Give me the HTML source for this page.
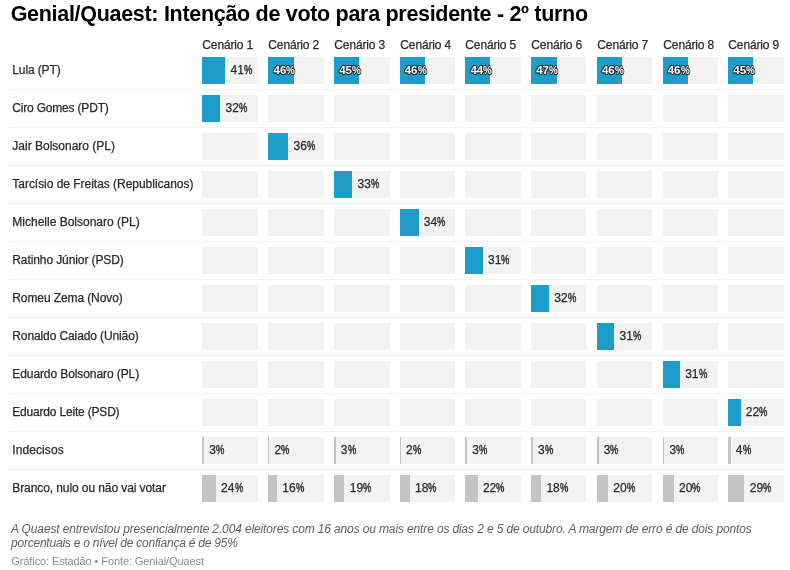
<!DOCTYPE html>
<html lang="pt-BR">
<head>
<meta charset="utf-8">
<title>Genial/Quaest</title>
<style>
html,body{margin:0;padding:0;background:#fff;}
body{width:790px;height:570px;position:relative;overflow:hidden;font-family:"Liberation Sans",sans-serif;color:#333;}
h1{position:absolute;margin:0;left:10.7px;top:1.0px;font-size:21.5px;letter-spacing:-0.30px;line-height:26px;font-weight:700;color:#000;white-space:nowrap;}
.hd{position:absolute;top:37px;-webkit-text-stroke:0.25px #2a2a2a;font-size:12px;line-height:16px;color:#2a2a2a;white-space:nowrap;letter-spacing:-0.13px;}
.lab{position:absolute;left:12.3px;-webkit-text-stroke:0.25px #2a2a2a;font-size:12px;line-height:16px;color:#2a2a2a;white-space:nowrap;}
.cell{position:absolute;background:#f2f2f2;width:56px;height:27px;}
.bar{position:absolute;left:0;top:0;height:100%;}
.b{background:#1d9dc9;}
.g{background:#c4c4c4;}
.v{position:absolute;top:5.3px;-webkit-text-stroke:0.25px #2a2a2a;font-size:12px;line-height:16px;color:#2a2a2a;white-space:nowrap;letter-spacing:0.07px;}
.v i{font-style:normal;display:inline-block;transform:scaleX(0.78);transform-origin:0 50%;letter-spacing:0;-webkit-text-stroke:0.45px #2a2a2a;}
.in i{-webkit-text-stroke:0;}
.in{color:#fff;left:5.6px;-webkit-text-stroke:0;font-weight:700;font-size:11.5px;letter-spacing:0.05px;text-shadow:.8px 0 0 #1f2a2e,-.8px 0 0 #1f2a2e,0 .8px 0 #1f2a2e,0 -.8px 0 #1f2a2e,.6px .6px 0 #1f2a2e,-.6px -.6px 0 #1f2a2e,.6px -.6px 0 #1f2a2e,-.6px .6px 0 #1f2a2e;}
.in i{transform:scaleX(0.86);}
.sep{position:absolute;left:8px;width:776px;height:0;border-top:1px solid #ebebeb;}
.sep.d{border-top:1px dotted #e9e9e9;}
.note{position:absolute;left:11px;top:522px;font-size:12px;line-height:14px;font-style:italic;color:#5e5e5e;letter-spacing:-0.134px;white-space:nowrap;}
.note span{letter-spacing:-0.22px;}
.by{position:absolute;left:11.3px;top:555px;font-size:11px;line-height:13px;color:#8a8a8a;white-space:nowrap;letter-spacing:-0.1px;}
</style>
</head>
<body>
<h1>Genial/Quaest: Intenção de voto para presidente - 2º turno</h1>
<div class="hd" style="left:202.30px">Cenário 1</div>
<div class="hd" style="left:268.30px">Cenário 2</div>
<div class="hd" style="left:334.30px">Cenário 3</div>
<div class="hd" style="left:400.30px">Cenário 4</div>
<div class="hd" style="left:465.30px">Cenário 5</div>
<div class="hd" style="left:531.30px">Cenário 6</div>
<div class="hd" style="left:597.30px">Cenário 7</div>
<div class="hd" style="left:663.30px">Cenário 8</div>
<div class="hd" style="left:728.30px">Cenário 9</div>
<div class="lab" style="top:62.3px;letter-spacing:-0.12px">Lula (PT)</div>
<div class="cell" style="left:202px;top:57.0px;width:56px"><div class="bar b" style="width:23px"></div><div class="v" style="left:28.56px">41<i>%</i></div></div>
<div class="cell" style="left:268px;top:57.0px;width:56px"><div class="bar b" style="width:26px"></div><div class="v in" style="left:5.44px">46<i>%</i></div></div>
<div class="cell" style="left:334px;top:57.0px;width:56px"><div class="bar b" style="width:25px"></div><div class="v in" style="left:5.18px">45<i>%</i></div></div>
<div class="cell" style="left:400px;top:57.0px;width:55px"><div class="bar b" style="width:25px"></div><div class="v in" style="left:4.67px">46<i>%</i></div></div>
<div class="cell" style="left:465px;top:57.0px;width:56px"><div class="bar b" style="width:25px"></div><div class="v in" style="left:5.41px">44<i>%</i></div></div>
<div class="cell" style="left:531px;top:57.0px;width:55px"><div class="bar b" style="width:26px"></div><div class="v in" style="left:5.15px">47<i>%</i></div></div>
<div class="cell" style="left:597px;top:57.0px;width:55px"><div class="bar b" style="width:25px"></div><div class="v in" style="left:4.89px">46<i>%</i></div></div>
<div class="cell" style="left:663px;top:57.0px;width:55px"><div class="bar b" style="width:25px"></div><div class="v in" style="left:4.63px">46<i>%</i></div></div>
<div class="cell" style="left:728px;top:57.0px;width:56px"><div class="bar b" style="width:25px"></div><div class="v in" style="left:5.37px">45<i>%</i></div></div>
<div class="sep d" style="top:89.0px"></div>
<div class="lab" style="top:100.3px;letter-spacing:-0.19px">Ciro Gomes (PDT)</div>
<div class="cell" style="left:202px;top:95.0px;width:56px"><div class="bar b" style="width:18px"></div><div class="v" style="left:23.52px">32<i>%</i></div></div>
<div class="cell" style="left:268px;top:95.0px;width:56px"></div>
<div class="cell" style="left:334px;top:95.0px;width:56px"></div>
<div class="cell" style="left:400px;top:95.0px;width:55px"></div>
<div class="cell" style="left:465px;top:95.0px;width:56px"></div>
<div class="cell" style="left:531px;top:95.0px;width:55px"></div>
<div class="cell" style="left:597px;top:95.0px;width:55px"></div>
<div class="cell" style="left:663px;top:95.0px;width:55px"></div>
<div class="cell" style="left:728px;top:95.0px;width:56px"></div>
<div class="sep d" style="top:127.0px"></div>
<div class="lab" style="top:138.3px;letter-spacing:-0.00px">Jair Bolsonaro (PL)</div>
<div class="cell" style="left:202px;top:133.0px;width:56px"></div>
<div class="cell" style="left:268px;top:133.0px;width:56px"><div class="bar b" style="width:20px"></div><div class="v" style="left:25.50px">36<i>%</i></div></div>
<div class="cell" style="left:334px;top:133.0px;width:56px"></div>
<div class="cell" style="left:400px;top:133.0px;width:55px"></div>
<div class="cell" style="left:465px;top:133.0px;width:56px"></div>
<div class="cell" style="left:531px;top:133.0px;width:55px"></div>
<div class="cell" style="left:597px;top:133.0px;width:55px"></div>
<div class="cell" style="left:663px;top:133.0px;width:55px"></div>
<div class="cell" style="left:728px;top:133.0px;width:56px"></div>
<div class="sep" style="top:165.0px"></div>
<div class="lab" style="top:176.3px;letter-spacing:-0.03px">Tarcísio de Freitas (Republicanos)</div>
<div class="cell" style="left:202px;top:171.0px;width:56px"></div>
<div class="cell" style="left:268px;top:171.0px;width:56px"></div>
<div class="cell" style="left:334px;top:171.0px;width:56px"><div class="bar b" style="width:18px"></div><div class="v" style="left:23.56px">33<i>%</i></div></div>
<div class="cell" style="left:400px;top:171.0px;width:55px"></div>
<div class="cell" style="left:465px;top:171.0px;width:56px"></div>
<div class="cell" style="left:531px;top:171.0px;width:55px"></div>
<div class="cell" style="left:597px;top:171.0px;width:55px"></div>
<div class="cell" style="left:663px;top:171.0px;width:55px"></div>
<div class="cell" style="left:728px;top:171.0px;width:56px"></div>
<div class="sep" style="top:203.0px"></div>
<div class="lab" style="top:214.3px;letter-spacing:-0.00px">Michelle Bolsonaro (PL)</div>
<div class="cell" style="left:202px;top:209.0px;width:56px"></div>
<div class="cell" style="left:268px;top:209.0px;width:56px"></div>
<div class="cell" style="left:334px;top:209.0px;width:56px"></div>
<div class="cell" style="left:400px;top:209.0px;width:55px"><div class="bar b" style="width:19px"></div><div class="v" style="left:23.86px">34<i>%</i></div></div>
<div class="cell" style="left:465px;top:209.0px;width:56px"></div>
<div class="cell" style="left:531px;top:209.0px;width:55px"></div>
<div class="cell" style="left:597px;top:209.0px;width:55px"></div>
<div class="cell" style="left:663px;top:209.0px;width:55px"></div>
<div class="cell" style="left:728px;top:209.0px;width:56px"></div>
<div class="sep d" style="top:241.0px"></div>
<div class="lab" style="top:252.3px;letter-spacing:-0.10px">Ratinho Júnior (PSD)</div>
<div class="cell" style="left:202px;top:247.0px;width:56px"></div>
<div class="cell" style="left:268px;top:247.0px;width:56px"></div>
<div class="cell" style="left:334px;top:247.0px;width:56px"></div>
<div class="cell" style="left:400px;top:247.0px;width:55px"></div>
<div class="cell" style="left:465px;top:247.0px;width:56px"><div class="bar b" style="width:18px"></div><div class="v" style="left:22.92px">31<i>%</i></div></div>
<div class="cell" style="left:531px;top:247.0px;width:55px"></div>
<div class="cell" style="left:597px;top:247.0px;width:55px"></div>
<div class="cell" style="left:663px;top:247.0px;width:55px"></div>
<div class="cell" style="left:728px;top:247.0px;width:56px"></div>
<div class="sep d" style="top:279.0px"></div>
<div class="lab" style="top:290.3px;letter-spacing:-0.10px">Romeu Zema (Novo)</div>
<div class="cell" style="left:202px;top:285.0px;width:56px"></div>
<div class="cell" style="left:268px;top:285.0px;width:56px"></div>
<div class="cell" style="left:334px;top:285.0px;width:56px"></div>
<div class="cell" style="left:400px;top:285.0px;width:55px"></div>
<div class="cell" style="left:465px;top:285.0px;width:56px"></div>
<div class="cell" style="left:531px;top:285.0px;width:55px"><div class="bar b" style="width:18px"></div><div class="v" style="left:23.22px">32<i>%</i></div></div>
<div class="cell" style="left:597px;top:285.0px;width:55px"></div>
<div class="cell" style="left:663px;top:285.0px;width:55px"></div>
<div class="cell" style="left:728px;top:285.0px;width:56px"></div>
<div class="sep" style="top:317.0px"></div>
<div class="lab" style="top:328.3px;letter-spacing:-0.11px">Ronaldo Caiado (União)</div>
<div class="cell" style="left:202px;top:323.0px;width:56px"></div>
<div class="cell" style="left:268px;top:323.0px;width:56px"></div>
<div class="cell" style="left:334px;top:323.0px;width:56px"></div>
<div class="cell" style="left:400px;top:323.0px;width:55px"></div>
<div class="cell" style="left:465px;top:323.0px;width:56px"></div>
<div class="cell" style="left:531px;top:323.0px;width:55px"></div>
<div class="cell" style="left:597px;top:323.0px;width:55px"><div class="bar b" style="width:17px"></div><div class="v" style="left:22.40px">31<i>%</i></div></div>
<div class="cell" style="left:663px;top:323.0px;width:55px"></div>
<div class="cell" style="left:728px;top:323.0px;width:56px"></div>
<div class="sep" style="top:355.0px"></div>
<div class="lab" style="top:366.3px;letter-spacing:-0.09px">Eduardo Bolsonaro (PL)</div>
<div class="cell" style="left:202px;top:361.0px;width:56px"></div>
<div class="cell" style="left:268px;top:361.0px;width:56px"></div>
<div class="cell" style="left:334px;top:361.0px;width:56px"></div>
<div class="cell" style="left:400px;top:361.0px;width:55px"></div>
<div class="cell" style="left:465px;top:361.0px;width:56px"></div>
<div class="cell" style="left:531px;top:361.0px;width:55px"></div>
<div class="cell" style="left:597px;top:361.0px;width:55px"></div>
<div class="cell" style="left:663px;top:361.0px;width:55px"><div class="bar b" style="width:17px"></div><div class="v" style="left:22.14px">31<i>%</i></div></div>
<div class="cell" style="left:728px;top:361.0px;width:56px"></div>
<div class="sep d" style="top:393.0px"></div>
<div class="lab" style="top:404.3px;letter-spacing:-0.19px">Eduardo Leite (PSD)</div>
<div class="cell" style="left:202px;top:399.0px;width:56px"></div>
<div class="cell" style="left:268px;top:399.0px;width:56px"></div>
<div class="cell" style="left:334px;top:399.0px;width:56px"></div>
<div class="cell" style="left:400px;top:399.0px;width:55px"></div>
<div class="cell" style="left:465px;top:399.0px;width:56px"></div>
<div class="cell" style="left:531px;top:399.0px;width:55px"></div>
<div class="cell" style="left:597px;top:399.0px;width:55px"></div>
<div class="cell" style="left:663px;top:399.0px;width:55px"></div>
<div class="cell" style="left:728px;top:399.0px;width:56px"><div class="bar b" style="width:13px"></div><div class="v" style="left:17.84px">22<i>%</i></div></div>
<div class="sep d" style="top:431.0px"></div>
<div class="lab" style="top:442.3px;letter-spacing:0.08px">Indecisos</div>
<div class="cell" style="left:202px;top:437.0px;width:56px"><div class="bar g" style="width:2px"></div><div class="v" style="left:7.28px">3<i>%</i></div></div>
<div class="cell" style="left:268px;top:437.0px;width:56px"><div class="bar g" style="width:1px"></div><div class="v" style="left:6.46px">2<i>%</i></div></div>
<div class="cell" style="left:334px;top:437.0px;width:56px"><div class="bar g" style="width:2px"></div><div class="v" style="left:6.76px">3<i>%</i></div></div>
<div class="cell" style="left:400px;top:437.0px;width:55px"><div class="bar g" style="width:1px"></div><div class="v" style="left:5.94px">2<i>%</i></div></div>
<div class="cell" style="left:465px;top:437.0px;width:56px"><div class="bar g" style="width:2px"></div><div class="v" style="left:7.24px">3<i>%</i></div></div>
<div class="cell" style="left:531px;top:437.0px;width:55px"><div class="bar g" style="width:2px"></div><div class="v" style="left:6.98px">3<i>%</i></div></div>
<div class="cell" style="left:597px;top:437.0px;width:55px"><div class="bar g" style="width:2px"></div><div class="v" style="left:6.72px">3<i>%</i></div></div>
<div class="cell" style="left:663px;top:437.0px;width:55px"><div class="bar g" style="width:1px"></div><div class="v" style="left:6.46px">3<i>%</i></div></div>
<div class="cell" style="left:728px;top:437.0px;width:56px"><div class="bar g" style="width:3px"></div><div class="v" style="left:7.76px">4<i>%</i></div></div>
<div class="sep" style="top:469.0px"></div>
<div class="lab" style="top:480.3px;letter-spacing:-0.09px">Branco, nulo ou não vai votar</div>
<div class="cell" style="left:202px;top:475.0px;width:56px"><div class="bar g" style="width:14px"></div><div class="v" style="left:19.04px">24<i>%</i></div></div>
<div class="cell" style="left:268px;top:475.0px;width:56px"><div class="bar g" style="width:9px"></div><div class="v" style="left:14.30px">16<i>%</i></div></div>
<div class="cell" style="left:334px;top:475.0px;width:56px"><div class="bar g" style="width:10px"></div><div class="v" style="left:15.72px">19<i>%</i></div></div>
<div class="cell" style="left:400px;top:475.0px;width:55px"><div class="bar g" style="width:10px"></div><div class="v" style="left:14.90px">18<i>%</i></div></div>
<div class="cell" style="left:465px;top:475.0px;width:56px"><div class="bar g" style="width:13px"></div><div class="v" style="left:17.88px">22<i>%</i></div></div>
<div class="cell" style="left:531px;top:475.0px;width:55px"><div class="bar g" style="width:10px"></div><div class="v" style="left:15.38px">18<i>%</i></div></div>
<div class="cell" style="left:597px;top:475.0px;width:55px"><div class="bar g" style="width:11px"></div><div class="v" style="left:16.24px">20<i>%</i></div></div>
<div class="cell" style="left:663px;top:475.0px;width:55px"><div class="bar g" style="width:11px"></div><div class="v" style="left:15.98px">20<i>%</i></div></div>
<div class="cell" style="left:728px;top:475.0px;width:56px"><div class="bar g" style="width:16px"></div><div class="v" style="left:21.76px">29<i>%</i></div></div>
<div class="note">A Quaest entrevistou presencialmente 2.004 eleitores com 16 anos ou mais entre os dias 2 e 5 de outubro. A margem de erro é de dois pontos<br><span>porcentuais e o nível de confiança é de 95%</span></div>
<div class="by">Gráfico: Estadão • Fonte: Genial/Quaest</div>
</body>
</html>
